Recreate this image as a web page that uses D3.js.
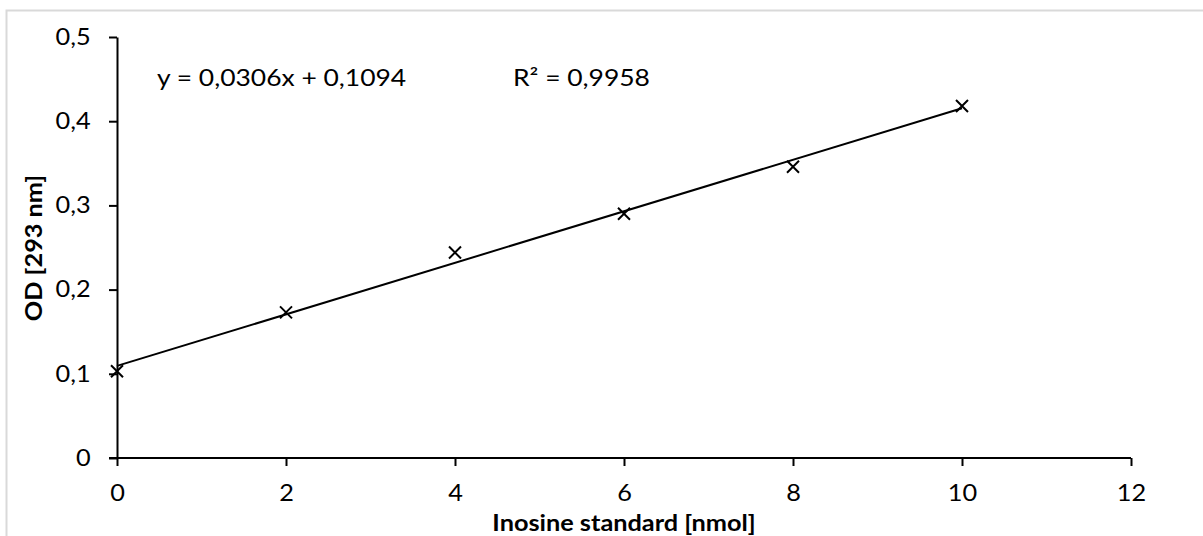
<!DOCTYPE html>
<meta charset="utf-8">
<head>
  <title>Inosine standard curve</title>
</head>
<style>
  body { margin: 0; background: #fff; }
  text { font-family: Lato, "Open Sans", sans-serif; fill: #000; }
</style>
<body>
  <svg id="chart" width="1203" height="536"></svg>

  <script src="https://d3js.org/d3.v7.min.js"></script>
  <script>

  // data
  var nmol = [0, 2, 4, 6, 8, 10];
  var od = [0.103, 0.173, 0.244, 0.290, 0.346, 0.418];
  var xTicks = [0, 2, 4, 6, 8, 10, 12];
  var yTicks = [0, 0.1, 0.2, 0.3, 0.4, 0.5];
  var slope = 0.0306, intercept = 0.1094;
  var eqLabel = "y = 0,0306x + 0,1094";
  var r2Label = "R\u00b2 = 0,9958";

  var svg = d3.select("#chart");
  var stretch = 1.1;   // the source text is a bit wider than Lato

  // outer chart border
  svg.append("rect")
    .attr("x", 6.5).attr("y", 10.5)
    .attr("width", 1220).attr("height", 600)
    .style("fill", "none").style("stroke", "#d9d9d9").style("stroke-width", 2);

  var x = d3.scaleLinear().domain([0, 12]).range([117, 1131]);
  var y = d3.scaleLinear().domain([0, 0.5]).range([458, 37]);

  var fmt = function(d) { return String(d).replace(".", ","); };

  // x axis
  var gx = svg.append("g")
    .attr("transform", "translate(0," + y(0) + ")")
    .call(d3.axisBottom(x).tickValues(xTicks).tickSize(8).tickPadding(19).tickSizeOuter(0).tickFormat(fmt));
  gx.select(".domain").attr("d", "M" + (x(0) - 8) + ",0H" + x(12)).style("stroke-width", 2);
  gx.selectAll(".tick line").style("stroke-width", 2);
  gx.selectAll(".tick text").style("font-size", "23px").attr("transform", "scale(" + stretch + ",1)");

  // y axis
  var gy = svg.append("g")
    .attr("transform", "translate(" + x(0) + ",0)")
    .call(d3.axisLeft(y).tickValues(yTicks).tickSize(8).tickPadding(16).tickSizeOuter(0).tickFormat(fmt));
  gy.select(".domain").style("stroke-width", 2);
  gy.selectAll(".tick line").style("stroke-width", 2);
  gy.selectAll(".tick text").style("font-size", "23px").attr("transform", "scale(" + stretch + ",1)");

  // linear trendline
  svg.append("line")
    .attr("x1", x(0)).attr("y1", y(intercept))
    .attr("x2", x(10)).attr("y2", y(intercept + slope * 10))
    .style("stroke", "#000").style("stroke-width", 2);

  // x markers
  var s = 6;
  svg.append("g").selectAll("path")
    .data(nmol)
    .enter()
    .append("path")
      .attr("d", function(d, i) {
        var cx = x(d), cy = y(od[i]);
        return "M" + (cx - s) + "," + (cy - s) + "L" + (cx + s) + "," + (cy + s) +
               "M" + (cx - s) + "," + (cy + s) + "L" + (cx + s) + "," + (cy - s);
      })
      .style("stroke", "#000").style("stroke-width", 2).style("fill", "none");

  // trendline labels
  svg.append("text").attr("transform", "translate(157,86) scale(1.15,1)")
    .text(eqLabel).style("font-size", "23px");
  svg.append("text").attr("transform", "translate(513,86) scale(1.15,1)")
    .text(r2Label).style("font-size", "23px");

  // axis titles
  svg.append("text")
    .attr("transform", "translate(624,531) scale(" + stretch + ",1)")
    .attr("text-anchor", "middle")
    .style("font-size", "23px").style("font-weight", "bold")
    .text("Inosine standard [nmol]");
  svg.append("text")
    .attr("transform", "translate(42,248) rotate(-90) scale(" + stretch + ",1)")
    .attr("text-anchor", "middle")
    .style("font-size", "23px").style("font-weight", "bold")
    .text("OD [293 nm]");

  </script>
</body>
</html>
